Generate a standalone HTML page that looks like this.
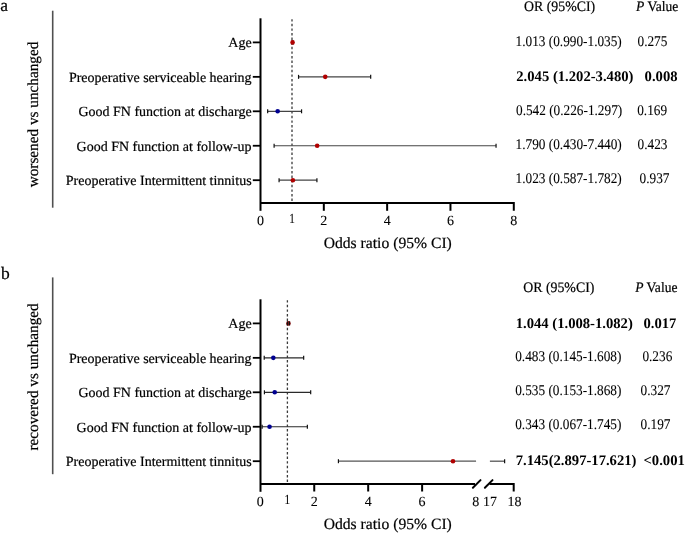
<!DOCTYPE html>
<html><head><meta charset="utf-8"><style>
html,body{margin:0;padding:0;background:#fff;}
svg{display:block;text-rendering:geometricPrecision;}
text{font-family:"Liberation Serif","Times New Roman",serif;fill:#000;stroke:#000;stroke-width:0.2px;}
text.b{stroke-width:0;}
text.n{stroke-width:0.08px;}
</style></head><body>
<svg width="685" height="534" viewBox="0 0 685 534">
<rect width="685" height="534" fill="#fff"/>
<g fill="#000">
<line x1="52.7" y1="10.7" x2="52.7" y2="207.7" stroke="#505050" stroke-width="1.6"/>
<text transform="translate(38.2,187.3) rotate(-90)" font-size="15.25" text-anchor="start">worsened vs unchanged</text>
<text x="0.2" y="11.4" font-size="17.5">a</text>
<text x="251.6" y="47.25" font-size="14.0" text-anchor="end">Age</text>
<line x1="252.8" y1="42.40" x2="261" y2="42.40" stroke="#000" stroke-width="1.8"/>
<text x="251.6" y="81.70" font-size="14.0" text-anchor="end">Preoperative serviceable hearing</text>
<line x1="252.8" y1="76.85" x2="261" y2="76.85" stroke="#000" stroke-width="1.8"/>
<text x="251.6" y="116.15" font-size="14.0" text-anchor="end">Good FN function at discharge</text>
<line x1="252.8" y1="111.30" x2="261" y2="111.30" stroke="#000" stroke-width="1.8"/>
<text x="251.6" y="150.60" font-size="14.0" text-anchor="end">Good FN function at follow-up</text>
<line x1="252.8" y1="145.75" x2="261" y2="145.75" stroke="#000" stroke-width="1.8"/>
<text x="251.6" y="185.05" font-size="14.0" text-anchor="end">Preoperative Intermittent tinnitus</text>
<line x1="252.8" y1="180.20" x2="261" y2="180.20" stroke="#000" stroke-width="1.8"/>
<line x1="292.0" y1="19.20" x2="292.0" y2="201.10" stroke="#3a3a3a" stroke-width="1.3" stroke-dasharray="2.4 2.2"/>
<line x1="260.5" y1="18.30" x2="260.5" y2="210.80" stroke="#000" stroke-width="2"/>
<line x1="291.84" y1="42.40" x2="293.27" y2="42.40" stroke="#444" stroke-width="1.2"/>
<line x1="291.84" y1="40.40" x2="291.84" y2="44.40" stroke="#111" stroke-width="1.2"/><line x1="293.27" y1="40.40" x2="293.27" y2="44.40" stroke="#111" stroke-width="1.2"/>
<circle cx="292.57" cy="42.40" r="2.3" fill="#b00000"/>
<line x1="298.56" y1="76.85" x2="370.68" y2="76.85" stroke="#444" stroke-width="1.2"/>
<line x1="298.56" y1="74.85" x2="298.56" y2="78.85" stroke="#111" stroke-width="1.2"/><line x1="370.68" y1="74.85" x2="370.68" y2="78.85" stroke="#111" stroke-width="1.2"/>
<circle cx="325.24" cy="76.85" r="2.3" fill="#b00000"/>
<line x1="267.66" y1="111.30" x2="301.56" y2="111.30" stroke="#444" stroke-width="1.2"/>
<line x1="267.66" y1="109.30" x2="267.66" y2="113.30" stroke="#111" stroke-width="1.2"/><line x1="301.56" y1="109.30" x2="301.56" y2="113.30" stroke="#111" stroke-width="1.2"/>
<circle cx="277.66" cy="111.30" r="2.3" fill="#000090"/>
<line x1="274.11" y1="145.75" x2="496.05" y2="145.75" stroke="#444" stroke-width="1.2"/>
<line x1="274.11" y1="143.75" x2="274.11" y2="147.75" stroke="#111" stroke-width="1.2"/><line x1="496.05" y1="143.75" x2="496.05" y2="147.75" stroke="#111" stroke-width="1.2"/>
<circle cx="317.17" cy="145.75" r="2.3" fill="#b00000"/>
<line x1="279.08" y1="180.20" x2="316.92" y2="180.20" stroke="#444" stroke-width="1.2"/>
<line x1="279.08" y1="178.20" x2="279.08" y2="182.20" stroke="#111" stroke-width="1.2"/><line x1="316.92" y1="178.20" x2="316.92" y2="182.20" stroke="#111" stroke-width="1.2"/>
<circle cx="292.89" cy="180.20" r="2.3" fill="#b00000"/>
<polyline points="260.5,203.1 513.8,203.1 513.8,210.8" fill="none" stroke="#000" stroke-width="2"/><line x1="323.82" y1="203" x2="323.82" y2="210.8" stroke="#000" stroke-width="2"/><line x1="387.14" y1="203" x2="387.14" y2="210.8" stroke="#000" stroke-width="2"/><line x1="450.46" y1="203" x2="450.46" y2="210.8" stroke="#000" stroke-width="2"/>
<text class="n" x="260.50" y="225.10" font-size="14.0" text-anchor="middle">0</text>
<text class="n" transform="translate(292.10,222.90) scale(0.8,1)" font-size="14.0" text-anchor="middle">1</text>
<text class="n" x="323.82" y="225.10" font-size="14.0" text-anchor="middle">2</text>
<text class="n" x="387.14" y="225.10" font-size="14.0" text-anchor="middle">4</text>
<text class="n" x="450.46" y="225.10" font-size="14.0" text-anchor="middle">6</text>
<text class="n" x="513.78" y="225.10" font-size="14.0" text-anchor="middle">8</text>
<text x="323.7" y="248.00" font-size="15.65">Odds ratio (95% CI)</text>
<text transform="translate(524.00,11.20) scale(0.955,1)" font-size="14.5">OR (95%CI)</text>
<text transform="translate(636.00,11.20) scale(0.94,1)" font-size="14.4"><tspan font-style="italic">P</tspan> Value</text>
<text class="n" transform="translate(515.60,45.90) scale(0.9,1)" font-size="14.75">1.013 (0.990-1.035)</text>
<text class="n" transform="translate(637.50,45.90) scale(0.9,1)" font-size="14.75">0.275</text>
<text x="516.30" y="81.00" class="b" font-weight="bold" font-size="14.65">2.045 (1.202-3.480)</text>
<text x="644.60" y="81.00" class="b" font-weight="bold" font-size="14.65">0.008</text>
<text class="n" transform="translate(516.00,114.80) scale(0.9,1)" font-size="14.75">0.542 (0.226-1.297)</text>
<text class="n" transform="translate(637.20,114.80) scale(0.9,1)" font-size="14.75">0.169</text>
<text class="n" transform="translate(515.60,148.80) scale(0.9,1)" font-size="14.75">1.790 (0.430-7.440)</text>
<text class="n" transform="translate(637.60,148.80) scale(0.9,1)" font-size="14.75">0.423</text>
<text class="n" transform="translate(515.60,183.00) scale(0.9,1)" font-size="14.75">1.023 (0.587-1.782)</text>
<text class="n" transform="translate(639.60,183.00) scale(0.9,1)" font-size="14.75">0.937</text>
<line x1="52.7" y1="277.4" x2="52.7" y2="474.2" stroke="#505050" stroke-width="1.6"/>
<text transform="translate(38.2,450.6) rotate(-90)" font-size="15.25" text-anchor="start">recovered vs unchanged</text>
<text x="0.9" y="278.8" font-size="17.5">b</text>
<text x="251.6" y="328.25" font-size="14.0" text-anchor="end">Age</text>
<line x1="252.8" y1="323.40" x2="261" y2="323.40" stroke="#000" stroke-width="1.8"/>
<text x="251.6" y="362.70" font-size="14.0" text-anchor="end">Preoperative serviceable hearing</text>
<line x1="252.8" y1="357.85" x2="261" y2="357.85" stroke="#000" stroke-width="1.8"/>
<text x="251.6" y="397.15" font-size="14.0" text-anchor="end">Good FN function at discharge</text>
<line x1="252.8" y1="392.30" x2="261" y2="392.30" stroke="#000" stroke-width="1.8"/>
<text x="251.6" y="431.60" font-size="14.0" text-anchor="end">Good FN function at follow-up</text>
<line x1="252.8" y1="426.75" x2="261" y2="426.75" stroke="#000" stroke-width="1.8"/>
<text x="251.6" y="466.05" font-size="14.0" text-anchor="end">Preoperative Intermittent tinnitus</text>
<line x1="252.8" y1="461.20" x2="261" y2="461.20" stroke="#000" stroke-width="1.8"/>
<line x1="287.4" y1="300.20" x2="287.4" y2="482.10" stroke="#3a3a3a" stroke-width="1.3" stroke-dasharray="2.4 2.2"/>
<line x1="260.5" y1="299.30" x2="260.5" y2="491.80" stroke="#000" stroke-width="2"/>
<line x1="287.49" y1="323.40" x2="289.48" y2="323.40" stroke="#2a2a2a" stroke-width="1.2"/>
<circle cx="288.46" cy="323.40" r="2.3" fill="#901818"/>
<line x1="287.49" y1="321.40" x2="287.49" y2="325.40" stroke="#111" stroke-width="1.2"/><line x1="289.48" y1="321.40" x2="289.48" y2="325.40" stroke="#111" stroke-width="1.2"/>
<line x1="264.21" y1="357.85" x2="303.67" y2="357.85" stroke="#2a2a2a" stroke-width="1.2"/>
<line x1="264.21" y1="355.85" x2="264.21" y2="359.85" stroke="#111" stroke-width="1.2"/><line x1="303.67" y1="355.85" x2="303.67" y2="359.85" stroke="#111" stroke-width="1.2"/>
<circle cx="273.33" cy="357.85" r="2.3" fill="#000090"/>
<line x1="264.43" y1="392.30" x2="310.68" y2="392.30" stroke="#2a2a2a" stroke-width="1.2"/>
<line x1="264.43" y1="390.30" x2="264.43" y2="394.30" stroke="#111" stroke-width="1.2"/><line x1="310.68" y1="390.30" x2="310.68" y2="394.30" stroke="#111" stroke-width="1.2"/>
<circle cx="274.73" cy="392.30" r="2.3" fill="#000090"/>
<line x1="262.11" y1="426.75" x2="307.36" y2="426.75" stroke="#2a2a2a" stroke-width="1.2"/>
<line x1="262.11" y1="424.75" x2="262.11" y2="428.75" stroke="#111" stroke-width="1.2"/><line x1="307.36" y1="424.75" x2="307.36" y2="428.75" stroke="#111" stroke-width="1.2"/>
<circle cx="269.55" cy="426.75" r="2.3" fill="#000090"/>
<line x1="338.43" y1="461.20" x2="476.06" y2="461.20" stroke="#555" stroke-width="1.3"/>
<line x1="489.90" y1="461.20" x2="504.62" y2="461.20" stroke="#555" stroke-width="1.3"/>
<line x1="338.43" y1="459.20" x2="338.43" y2="463.20" stroke="#111" stroke-width="1.2"/><line x1="504.62" y1="459.20" x2="504.62" y2="463.20" stroke="#111" stroke-width="1.2"/>
<circle cx="453.00" cy="461.20" r="2.3" fill="#b00000"/>
<polyline points="260.5,484.1 475,484.1" fill="none" stroke="#000" stroke-width="2"/><polyline points="489.5,484.1 513.7,484.1 513.7,491.5" fill="none" stroke="#000" stroke-width="2"/><line x1="472.9" y1="487.7" x2="480.5" y2="480.1" stroke="#000" stroke-width="2" stroke-linecap="round"/><line x1="484.9" y1="487.7" x2="492.5" y2="480.1" stroke="#000" stroke-width="2" stroke-linecap="round"/><line x1="314.24" y1="484" x2="314.24" y2="491.5" stroke="#000" stroke-width="2"/><line x1="368.18" y1="484" x2="368.18" y2="491.5" stroke="#000" stroke-width="2"/><line x1="422.12" y1="484" x2="422.12" y2="491.5" stroke="#000" stroke-width="2"/>
<text class="n" x="260.30" y="506.10" font-size="14.0" text-anchor="middle">0</text>
<text class="n" transform="translate(287.30,503.90) scale(0.8,1)" font-size="14.0" text-anchor="middle">1</text>
<text class="n" x="314.24" y="506.10" font-size="14.0" text-anchor="middle">2</text>
<text class="n" x="368.18" y="506.10" font-size="14.0" text-anchor="middle">4</text>
<text class="n" x="422.12" y="506.10" font-size="14.0" text-anchor="middle">6</text>
<text class="n" x="475.70" y="506.10" font-size="14.0" text-anchor="middle">8</text>
<text class="n" x="489.90" y="506.10" font-size="14.0" text-anchor="middle">17</text>
<text class="n" x="514.40" y="506.10" font-size="14.0" text-anchor="middle">18</text>
<text x="323.7" y="529.00" font-size="15.65">Odds ratio (95% CI)</text>
<text transform="translate(523.20,292.10) scale(0.955,1)" font-size="14.5">OR (95%CI)</text>
<text transform="translate(635.20,292.10) scale(0.94,1)" font-size="14.4"><tspan font-style="italic">P</tspan> Value</text>
<text x="515.70" y="327.70" class="b" font-weight="bold" font-size="14.65">1.044 (1.008-1.082)</text>
<text x="643.50" y="327.70" class="b" font-weight="bold" font-size="14.65">0.017</text>
<text class="n" transform="translate(515.20,360.70) scale(0.9,1)" font-size="14.75">0.483 (0.145-1.608)</text>
<text class="n" transform="translate(642.40,360.70) scale(0.9,1)" font-size="14.75">0.236</text>
<text class="n" transform="translate(515.20,395.20) scale(0.9,1)" font-size="14.75">0.535 (0.153-1.868)</text>
<text class="n" transform="translate(640.60,395.20) scale(0.9,1)" font-size="14.75">0.327</text>
<text class="n" transform="translate(515.20,429.40) scale(0.9,1)" font-size="14.75">0.343 (0.067-1.745)</text>
<text class="n" transform="translate(640.60,429.40) scale(0.9,1)" font-size="14.75">0.197</text>
<text x="515.70" y="465.00" class="b" font-weight="bold" font-size="14.65">7.145(2.897-17.621)</text>
<text x="643.50" y="465.00" class="b" font-weight="bold" font-size="14.65">&lt;0.001</text>
</g>
</svg>
</body></html>
